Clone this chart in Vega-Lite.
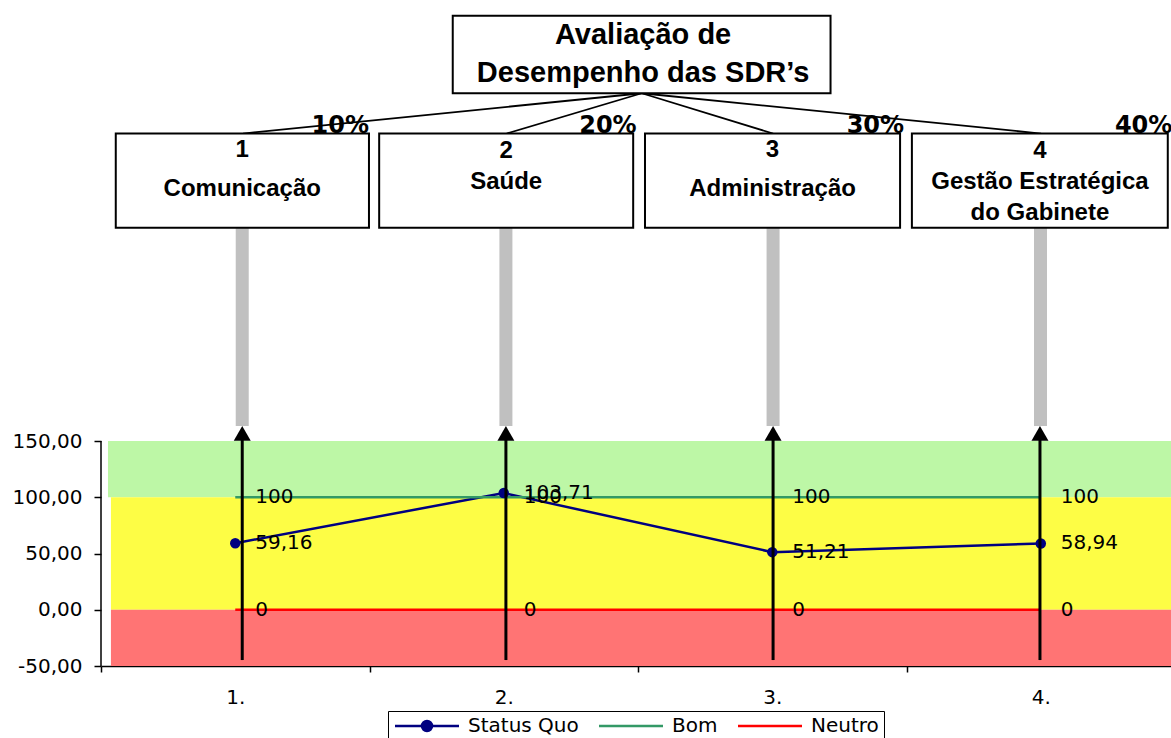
{
  "$schema": "https://vega.github.io/schema/vega-lite/v6.json",
  "width": 1070,
  "height": 666,
  "autosize": {"type": "none"},
  "padding": {"left": 101, "top": 0, "right": 0, "bottom": 72},
  "background": "white",
  "datasets": {
    "faixas": [
      {"zone": "verde", "x": 0.526, "x2": 4.485, "y": 100, "y2": 150},
      {"zone": "amarelo", "x": 0.537, "x2": 4.485, "y": 0, "y2": 100},
      {"zone": "vermelho", "x": 0.537, "x2": 4.485, "y": -50, "y2": 0}
    ],
    "eixo": [{"x": 0.5, "y": -50, "y2": 150}],
    "hastes": [
      {"x": 1.026, "y": 163.3, "y2": 339.6},
      {"x": 2.008, "y": 163.3, "y2": 339.6},
      {"x": 3.003, "y": 163.3, "y2": 339.6},
      {"x": 3.999, "y": 163.3, "y2": 339.6}
    ],
    "ligacoes": [
      {"x": 2.514, "y": 459.1, "x2": 1.029, "y2": 423.3},
      {"x": 2.514, "y": 459.1, "x2": 2.011, "y2": 423.3},
      {"x": 2.514, "y": 459.1, "x2": 3.003, "y2": 423.3},
      {"x": 2.514, "y": 459.1, "x2": 4.001, "y2": 423.3}
    ],
    "caixas": [
      {"x": 1.810, "x2": 3.217, "y": 459.1, "y2": 528.0},
      {"x": 0.555, "x2": 1.498, "y": 339.6, "y2": 423.3},
      {"x": 1.536, "x2": 2.482, "y": 339.6, "y2": 423.3},
      {"x": 2.526, "x2": 3.476, "y": 339.6, "y2": 423.3},
      {"x": 3.520, "x2": 4.473, "y": 339.6, "y2": 423.3}
    ],
    "textos": [
      {"x": 1.026, "y": 408.3, "text": "1"},
      {"x": 1.026, "y": 373.8, "text": "Comunicação"},
      {"x": 2.009, "y": 407.8, "text": "2"},
      {"x": 2.009, "y": 380.5, "text": "Saúde"},
      {"x": 3.001, "y": 408.3, "text": "3"},
      {"x": 3.001, "y": 373.8, "text": "Administração"},
      {"x": 3.997, "y": 407.8, "text": "4"},
      {"x": 3.997, "y": 380.5, "text": "Gestão Estratégica"},
      {"x": 3.997, "y": 352.7, "text": "do Gabinete"}
    ],
    "titulo": [
      {"x": 2.519, "y": 510.9, "text": "Avaliação de"},
      {"x": 2.519, "y": 477.1, "text": "Desempenho das SDR’s"}
    ],
    "pesos": [
      {"x": 1.498, "y": 424.2, "text": "10%"},
      {"x": 2.495, "y": 424.2, "text": "20%"},
      {"x": 3.491, "y": 424.2, "text": "30%"},
      {"x": 4.49, "y": 424.2, "text": "40%"}
    ],
    "series": [
      {"series": "Status Quo", "x": 1, "y": 59.16},
      {"series": "Status Quo", "x": 2, "y": 103.71},
      {"series": "Status Quo", "x": 3, "y": 51.21},
      {"series": "Status Quo", "x": 4, "y": 58.94},
      {"series": "Bom", "x": 1, "y": 100},
      {"series": "Bom", "x": 2, "y": 100},
      {"series": "Bom", "x": 3, "y": 100},
      {"series": "Bom", "x": 4, "y": 100},
      {"series": "Neutro", "x": 1, "y": 0},
      {"series": "Neutro", "x": 2, "y": 0},
      {"series": "Neutro", "x": 3, "y": 0},
      {"series": "Neutro", "x": 4, "y": 0}
    ],
    "setas": [
      {"x": 1.026, "y": -44.7, "y2": 150.9},
      {"x": 2.008, "y": -44.7, "y2": 150.9},
      {"x": 3.003, "y": -44.7, "y2": 150.9},
      {"x": 3.997, "y": -44.7, "y2": 150.9}
    ],
    "pontas": [
      {"x": 1.026, "y": 156.7},
      {"x": 2.008, "y": 156.7},
      {"x": 3.003, "y": 156.7},
      {"x": 3.997, "y": 156.7}
    ]
  },
  "encoding": {
    "x": {
      "field": "x",
      "type": "quantitative",
      "title": null,
      "scale": {"domain": [0.5, 4.485], "nice": false, "zero": false},
      "axis": {
        "values": [0.5, 1, 1.5, 2, 2.5, 3, 3.5, 4],
        "labelExpr": "datum.value % 1 === 0 ? datum.value + '.' : ''",
        "tickOpacity": {"condition": {"test": "datum.value % 1 === 0", "value": 0}, "value": 1},
        "tickSize": 6,
        "tickColor": "black",
        "tickWidth": 1.5,
        "domainColor": "black",
        "domainWidth": 1.5,
        "labelPadding": 15,
        "labelFontSize": 20,
        "labelFont": "DejaVu Sans",
        "labelColor": "black",
        "labelFlush": false,
        "labelOverlap": false,
        "grid": false
      }
    },
    "y": {
      "field": "y",
      "type": "quantitative",
      "title": null,
      "scale": {"domain": [-50, 542], "nice": false, "zero": false},
      "axis": {
        "values": [-50, 0, 50, 100, 150],
        "format": ".2f",
        "domain": false,
        "tickSize": 7,
        "tickColor": "black",
        "tickWidth": 1.5,
        "labelPadding": 12,
        "labelFontSize": 20,
        "labelFont": "DejaVu Sans",
        "labelColor": "black",
        "labelFlush": false,
        "grid": false
      }
    }
  },
  "layer": [
    {
      "data": {"name": "faixas"},
      "mark": {"type": "rect"},
      "encoding": {
        "x2": {"field": "x2"},
        "y2": {"field": "y2"},
        "fill": {
          "field": "zone",
          "type": "nominal",
          "scale": {"domain": ["verde", "amarelo", "vermelho"], "range": ["#bdf7a6", "#fdfd45", "#ff7474"]},
          "legend": null
        }
      }
    },
    {
      "data": {"name": "eixo"},
      "mark": {"type": "rule", "color": "black", "strokeWidth": 1.5},
      "encoding": {"y2": {"field": "y2"}}
    },
    {
      "data": {"name": "hastes"},
      "mark": {"type": "rule", "color": "#c0c0c0", "strokeWidth": 13},
      "encoding": {"y2": {"field": "y2"}}
    },
    {
      "data": {"name": "ligacoes"},
      "mark": {"type": "rule", "color": "black", "strokeWidth": 1.8},
      "encoding": {"x2": {"field": "x2"}, "y2": {"field": "y2"}}
    },
    {
      "data": {"name": "caixas"},
      "mark": {"type": "rect", "fill": "white", "stroke": "black", "strokeWidth": 2},
      "encoding": {"x2": {"field": "x2"}, "y2": {"field": "y2"}}
    },
    {
      "data": {"name": "textos"},
      "mark": {"type": "text", "font": "Liberation Sans", "fontWeight": "bold", "fontSize": 24, "align": "center", "baseline": "middle", "color": "black"},
      "encoding": {"text": {"field": "text"}}
    },
    {
      "data": {"name": "titulo"},
      "mark": {"type": "text", "font": "Liberation Sans", "fontWeight": "bold", "fontSize": 29, "align": "center", "baseline": "middle", "color": "black"},
      "encoding": {"text": {"field": "text"}}
    },
    {
      "data": {"name": "pesos"},
      "mark": {"type": "text", "font": "DejaVu Sans", "fontSize": 24, "fontWeight": "bold", "align": "right", "baseline": "alphabetic", "color": "black"},
      "encoding": {"text": {"field": "text"}}
    },
    {
      "data": {"name": "series"},
      "mark": {"type": "line", "strokeWidth": 2.5},
      "encoding": {
        "color": {
          "field": "series",
          "type": "nominal",
          "scale": {"domain": ["Status Quo", "Bom", "Neutro"], "range": ["#000080", "#339966", "#ff0000"]},
          "legend": {
            "orient": "none",
            "legendX": 287,
            "legendY": 711,
            "direction": "horizontal",
            "title": null,
            "strokeColor": "black",
            "fillColor": "white",
            "padding": 5,
            "symbolType": "M-1,0H7",
            "symbolSize": 256,
            "symbolStrokeWidth": 2.5,
            "labelOffset": 55,
            "columnPadding": 15,
            "labelFontSize": 20,
            "labelFont": "DejaVu Sans",
            "labelColor": "black",
            "encode": {
              "symbols": {
                "update": {
                  "shape": {"signal": "datum.value === 'Status Quo' ? 'M-1,0H7M2.375,0A0.625,0.625,0,1,1,3.625,0A0.625,0.625,0,1,1,2.375,0' : 'M-1,0H7'"},
                  "fill": {"value": "#000080"}
                }
              }
            }
          }
        }
      }
    },
    {
      "data": {"name": "series"},
      "transform": [{"filter": "datum.series === 'Status Quo'"}],
      "mark": {"type": "circle", "size": 110, "color": "#000080", "opacity": 1}
    },
    {
      "data": {"name": "setas"},
      "mark": {"type": "rule", "color": "black", "strokeWidth": 3},
      "encoding": {"y2": {"field": "y2"}}
    },
    {
      "data": {"name": "pontas"},
      "mark": {"type": "point", "shape": "triangle-up", "size": 289, "filled": true, "color": "black", "opacity": 1}
    },
    {
      "data": {"name": "series"},
      "mark": {"type": "text", "font": "DejaVu Sans", "fontSize": 20, "align": "left", "baseline": "middle", "dx": 20, "color": "black"},
      "encoding": {"text": {"field": "y", "type": "quantitative", "format": ".2~f"}}
    }
  ],
  "config": {
    "view": {"stroke": null},
    "font": "DejaVu Sans",
    "axis": {"grid": false},
    "locale": {
      "number": {"decimal": ",", "thousands": ".", "grouping": [3], "currency": ["R$", ""], "minus": "-"}
    }
  }
}
